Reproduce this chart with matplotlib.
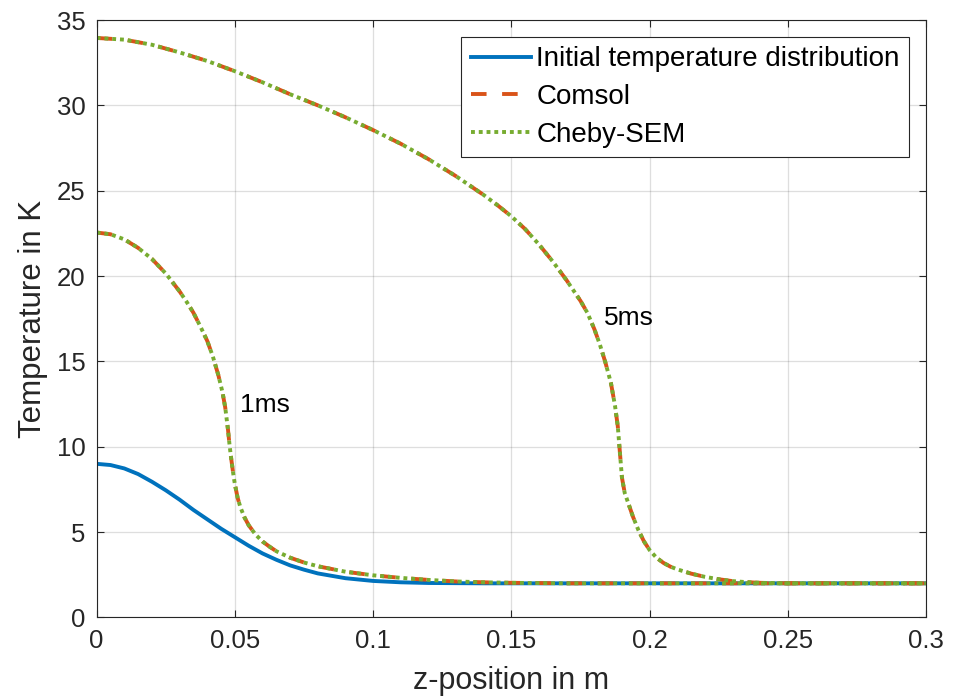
import matplotlib.pyplot as plt

# values
z_init = [0, 0.005, 0.01, 0.015, 0.02, 0.025, 0.03, 0.035, 0.04, 0.045, 0.05, 0.055,
          0.06, 0.065, 0.07, 0.075, 0.08, 0.09, 0.1, 0.11, 0.12, 0.13, 0.14, 0.3]
T_init = [9.0, 8.93, 8.73, 8.4, 7.95, 7.45, 6.9, 6.3, 5.75, 5.2, 4.7, 4.2,
          3.75, 3.38, 3.05, 2.8, 2.58, 2.3, 2.14, 2.06, 2.02, 2.01, 2.0, 2.0]

z_1ms = [0, 0.005, 0.01, 0.015, 0.02, 0.025, 0.03, 0.0325, 0.035, 0.0375, 0.04, 0.042,
         0.044, 0.0455, 0.0465, 0.0475, 0.048, 0.0485, 0.049, 0.0495, 0.05, 0.051, 0.052,
         0.0535, 0.055, 0.0575, 0.06, 0.0625, 0.065, 0.07, 0.075, 0.08, 0.09, 0.1, 0.11,
         0.12, 0.13, 0.14, 0.15, 0.17, 0.3]
T_1ms = [22.55, 22.45, 22.15, 21.65, 21.0, 20.15, 19.1, 18.5, 17.85, 17.05, 16.2, 15.3,
         14.2, 13.2, 12.3, 11.0, 10.2, 9.5, 8.9, 8.3, 7.8, 7.0, 6.45,
         5.85, 5.4, 4.85, 4.45, 4.15, 3.88, 3.5, 3.22, 3.0, 2.68, 2.47, 2.32,
         2.2, 2.11, 2.06, 2.03, 2.0, 2.0]

z_5ms = [0, 0.01, 0.02, 0.03, 0.04, 0.05, 0.06, 0.07, 0.08, 0.09, 0.1, 0.11, 0.12, 0.13,
         0.14, 0.145, 0.15, 0.155, 0.16, 0.165, 0.17, 0.1725, 0.175, 0.1775, 0.18, 0.182,
         0.184, 0.186, 0.1875, 0.1885, 0.1895, 0.19, 0.191, 0.1925, 0.194, 0.196, 0.198,
         0.2, 0.2025, 0.205, 0.2075, 0.21, 0.215, 0.22, 0.225, 0.23, 0.235, 0.24, 0.25, 0.3]
T_5ms = [33.95, 33.85, 33.55, 33.1, 32.6, 32.0, 31.35, 30.65, 30.0, 29.3, 28.55, 27.75,
         26.85, 25.85, 24.75, 24.15, 23.5, 22.75, 21.85, 20.85, 19.75, 19.15, 18.55, 17.85,
         16.9, 16.0, 14.95, 13.75, 12.4, 11.2, 9.2, 8.2, 7.3, 6.6, 5.9, 5.1, 4.45,
         3.95, 3.5, 3.2, 2.98, 2.82, 2.57, 2.38, 2.24, 2.13, 2.07, 2.03, 2.0, 2.0]

x_ticks = [0, 0.05, 0.1, 0.15, 0.2, 0.25, 0.3]
x_ticklabels = ['0', '0.05', '0.1', '0.15', '0.2', '0.25', '0.3']
y_ticks = [0, 5, 10, 15, 20, 25, 30, 35]

blue = '#0072BD'
orange = '#D95319'
green = '#77AC30'
dark = '#262626'

plt.rcParams['font.family'] = ['Liberation Sans', 'DejaVu Sans']

fig = plt.figure(figsize=(9.63, 7.0), dpi=100)
ax = fig.add_axes([0.1004, 0.1179, 0.8612, 0.8535])

ax.plot(z_init, T_init, color=blue, lw=2.8, label='Initial temperature distribution')

for i, (z, T) in enumerate([(z_1ms, T_1ms), (z_5ms, T_5ms)]):
    ax.plot(z, T, color=orange, lw=2.8, linestyle=(0, (4, 4)),
            label='Comsol' if i == 0 else None)
for i, (z, T) in enumerate([(z_1ms, T_1ms), (z_5ms, T_5ms)]):
    ax.plot(z, T, color=green, lw=2.8, linestyle=(0, (1, 1)),
            label='Cheby-SEM' if i == 0 else None)

ax.text(0.0518, 12.46, '1ms', fontsize=19, va='center', ha='left')
ax.text(0.1834, 17.54, '5ms', fontsize=19, va='center', ha='left')

ax.set_xlim(0, 0.3)
ax.set_ylim(0, 35)
ax.set_xticks(x_ticks)
ax.set_xticklabels(x_ticklabels)
ax.set_yticks(y_ticks)

ax.grid(True, color=dark, alpha=0.15, lw=0.9)
ax.tick_params(direction='in', top=True, right=True, length=5, width=0.8,
               colors=dark, labelsize=18.5, pad=8)
for s in ax.spines.values():
    s.set_color(dark)
    s.set_linewidth(0.8)

ax.set_xlabel('z-position in m', fontsize=22, color=dark, labelpad=10)
ax.set_ylabel('Temperature in K', fontsize=22.5, color=dark, labelpad=6)

leg = ax.legend(loc='upper right', fontsize=20, fancybox=False, frameon=True,
                edgecolor=dark, framealpha=1, handlelength=2.15, handletextpad=0.2,
                labelspacing=0.42, borderpad=0.35, borderaxespad=0.6)
leg.get_frame().set_linewidth(0.8)

fig.savefig('out.png', dpi=100)
